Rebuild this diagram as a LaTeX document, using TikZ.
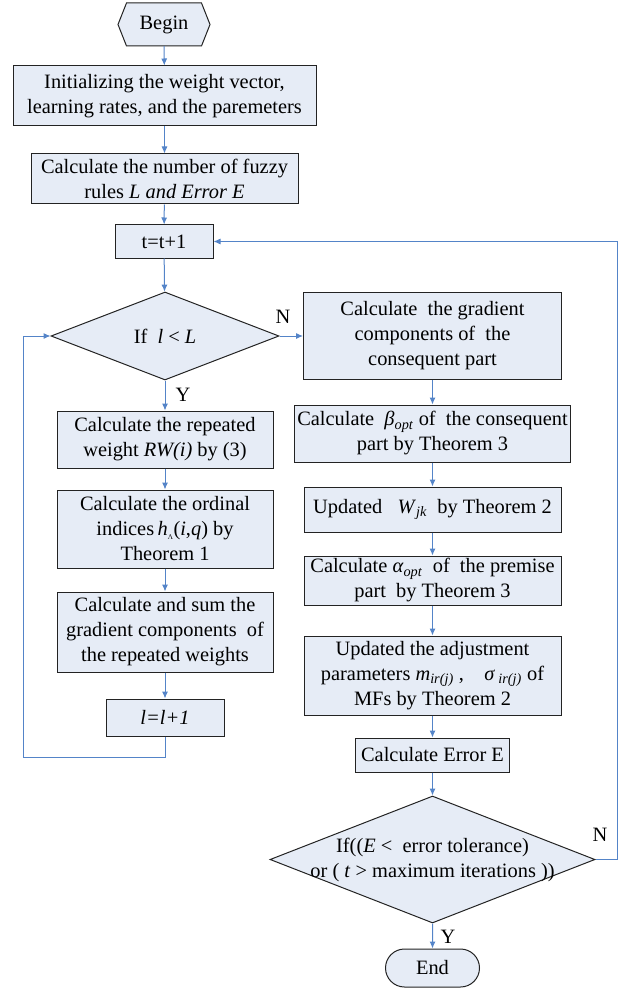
\documentclass[tikz,border=0pt]{standalone}
\usepackage{fontspec}
\setmainfont{Liberation Serif}
\usepackage{tikz}
\usetikzlibrary{shapes.geometric,shapes.misc,arrows.meta}

\definecolor{boxfill}{RGB}{230,236,246}
\definecolor{flowblue}{RGB}{84,132,200}
\definecolor{edgegray}{RGB}{35,35,35}

\begin{document}
\begin{tikzpicture}[x=1pt,y=-1pt,
        every node/.style={font=\fontsize{20.4}{25}\selectfont},
        block/.style={rectangle,draw=edgegray,fill=boxfill,line width=1pt,align=center,inner sep=0pt},
        decision/.style={diamond,draw=edgegray,fill=boxfill,line width=1pt,inner sep=0pt},
        flow/.style={flowblue,line width=1pt,-{Latex[length=7pt,width=6pt]}}]

        % Fix the page to the size of the reference
        \useasboundingbox (0,0) rectangle (626,992);

        % Start node (hexagon drawn first, text on top)
        \draw[draw=edgegray,fill=boxfill,line width=1pt]
            (118,24.5) -- (126.5,3) -- (201.5,3) -- (210,24.5) -- (201.5,46) -- (126.5,46) -- cycle;
        \node[minimum width=92pt,minimum height=43pt,inner sep=0pt] (begin) at (164,24.5) {Begin};

        % First steps of the left column
        \node[block,minimum width=303pt,minimum height=60pt] (init) at (164.5,96)
            {Initializing the weight vector,\\learning rates, and the paremeters};
        \node[block,minimum width=267pt,minimum height=50pt] (rules) at (164.5,179)
            {Calculate the number of fuzzy\\rules \textit{L and Error E}};
        \node[block,minimum width=98pt,minimum height=33pt] (tinc) at (164,241.5) {t=t+1};

        % Inner loop over the rules
        \node[decision,minimum width=228pt,minimum height=88pt] (ifl) at (165,336) {};
        \node (ifltext) at (ifl) {If\ \ \textit{l} < \textit{L}};
        \node[block,minimum width=216pt,minimum height=57pt] (rw) at (165,439.5)
            {Calculate the repeated\\weight \textit{RW(i)} by (3)};
        \node[block,minimum width=216pt,minimum height=78pt] (ord) at (165,529)
            {Calculate the ordinal\\indices\,\textit{h}\textsubscript{\scalebox{0.5}{Λ}}(\textit{i},\textit{q}) by\\Theorem 1};
        \node[block,minimum width=216pt,minimum height=80pt] (sum) at (165,632)
            {Calculate and sum the\\gradient components\ \ of\\the repeated weights};
        \node[block,minimum width=118pt,minimum height=37pt] (linc) at (165,717.5) {\textit{l=l+1}};

        % Right column: updates of the parameters
        \node[block,minimum width=258pt,minimum height=87pt] (grad) at (432.5,336)
            {Calculate\ \ the gradient\\components of\ \ the\\consequent part};
        \node[block,minimum width=276pt,minimum height=57pt] (beta) at (432.5,433.5)
            {Calculate\ \ \textit{β}\textsubscript{\textit{opt}} of\ \ the consequent\\part by Theorem 3};
        \node[block,minimum width=257pt,minimum height=45pt] (wjk) at (432.5,509.5)
            {Updated\ \ \ \textit{W}\textsubscript{\textit{jk}}\ \ by Theorem 2};
        \node[block,minimum width=257pt,minimum height=49pt] (alpha) at (432.5,580.5)
            {Calculate \textit{α}\textsubscript{\textit{opt}}\ \ of\ \ the premise\\part\ \ by Theorem 3};
        \node[block,minimum width=257pt,minimum height=79pt] (adj) at (432.5,675.5)
            {Updated the adjustment\\parameters \textit{m}\textsubscript{\textit{ir(j)}} ,\ \ \ \ \textit{σ}\,\textsubscript{\textit{ir(j)}} of\\MFs by Theorem 2};
        \node[block,minimum width=154pt,minimum height=34pt] (err) at (432.5,755) {Calculate Error E};

        % Stopping test and end
        \node[decision,minimum width=325pt,minimum height=127pt] (stop) at (432.5,859.5) {};
        \node[align=center] (stoptext) at (stop)
            {If((\textit{E} <\ \ error tolerance)\\or ( \textit{t} > maximum iterations ))};
        \node[rounded rectangle,draw=edgegray,fill=boxfill,line width=1pt,inner sep=0pt,
              minimum width=94pt,minimum height=38pt] (finish) at (432.5,968) {End};

        % Branch labels
        \node (yes1) at (183,395) {Y};
        \node (no1) at (283,317) {N};
        \node (no2) at (600,835) {N};
        \node (yes2) at (448,937) {Y};

        % Turning points of the two loops
        \coordinate (lback) at (23,757);
        \coordinate (rback) at (617,859.5);

        % Connectors
        \draw[flow] (begin) -- (init);
        \draw[flow] (init) -- (rules);
        \draw[flow] (rules) -- (tinc);
        \draw[flow] (tinc) -- (ifl);
        \draw[flow] (ifl) -- (rw);
        \draw[flow] (rw) -- (ord);
        \draw[flow] (ord) -- (sum);
        \draw[flow] (sum) -- (linc);
        \draw[flow] (linc.south) |- (lback) |- (ifl.west);
        \draw[flow] (ifl.east) -- (grad.west);
        \draw[flow] (grad) -- (beta);
        \draw[flow] (beta) -- (wjk);
        \draw[flow] (wjk) -- (alpha);
        \draw[flow] (alpha) -- (adj);
        \draw[flow] (adj) -- (err);
        \draw[flow] (err) -- (stop);
        \draw[flow] (stop) -- (finish);
        \draw[flow] (stop.east) -- (rback) |- (tinc.east);

    \end{tikzpicture}
\end{document}
